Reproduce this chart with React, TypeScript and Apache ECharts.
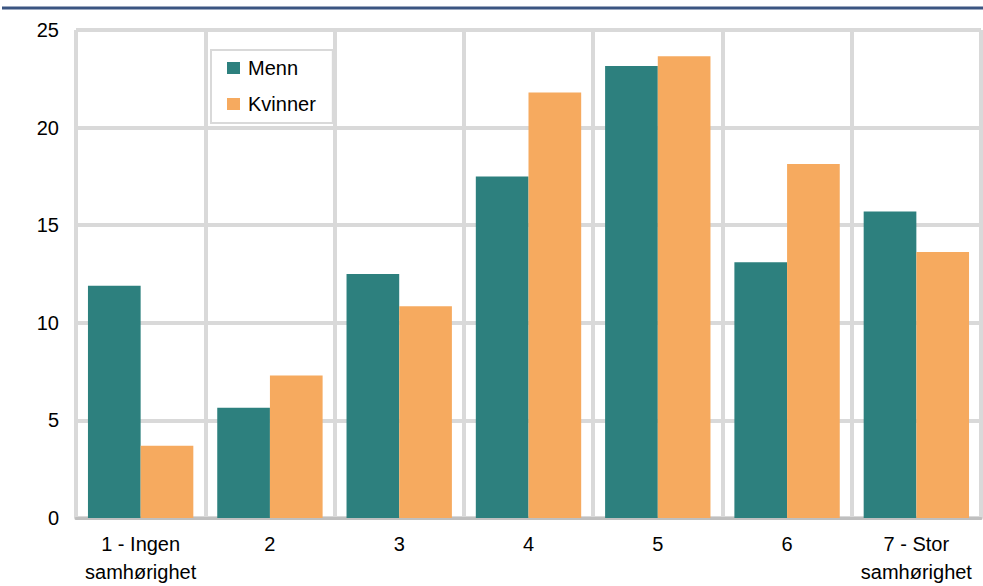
import React, { useEffect, useRef } from "react";
import * as echarts from "echarts";

const categories = [
  "1 - Ingen\nsamhørighet",
  "2",
  "3",
  "4",
  "5",
  "6",
  "7 - Stor\nsamhørighet",
];
const menn = [11.9, 5.65, 12.5, 17.5, 23.15, 13.1, 15.7];
const kvinner = [3.7, 7.3, 10.85, 21.8, 23.65, 18.13, 13.63];
const seriesNames = ["Menn", "Kvinner"];

const FONT = "'Liberation Sans', Arial, sans-serif";

export default function App() {
  const ref = useRef<HTMLDivElement>(null);
  useEffect(() => {
    if (!ref.current) return;
    const chart = echarts.init(ref.current, undefined, { renderer: "svg" });
    chart.setOption({
      animation: false,
      backgroundColor: "#ffffff",
      grid: { left: 76, right: 2, top: 30, bottom: 68, containLabel: false },
      graphic: [
        {
          type: "line",
          shape: { x1: 2, y1: 8, x2: 983, y2: 8 },
          style: { stroke: "#3b5582", lineWidth: 3 },
        },
      ],
      legend: {
        orient: "vertical",
        left: 211,
        top: 50,
        data: seriesNames,
        backgroundColor: "#ffffff",
        borderColor: "#d9d9d9",
        borderWidth: 2,
        padding: [8, 17, 9, 16],
        itemWidth: 13,
        itemHeight: 12,
        itemGap: 16,
        icon: "rect",
        textStyle: {
          fontFamily: FONT,
          fontSize: 20,
          color: "#000000",
          lineHeight: 20,
          padding: [0, 0, 0, 3],
        },
      },
      xAxis: {
        type: "category",
        data: categories,
        axisLine: { show: true, lineStyle: { color: "#bfbfbf", width: 3 } },
        axisTick: { show: false },
        splitLine: { show: true, interval: 0, lineStyle: { color: "#d9d9d9", width: 4 } },
        axisLabel: {
          interval: 0,
          margin: 12,
          fontFamily: FONT,
          fontSize: 20,
          lineHeight: 28,
          color: "#000000",
        },
      },
      yAxis: {
        type: "value",
        min: 0,
        max: 25,
        interval: 5,
        axisLine: { show: false },
        axisTick: { show: false },
        splitLine: { show: true, lineStyle: { color: "#d9d9d9", width: 4 } },
        axisLabel: {
          margin: 17,
          fontFamily: FONT,
          fontSize: 20,
          color: "#000000",
        },
      },
      series: [
        {
          name: seriesNames[0],
          type: "bar",
          data: menn,
          itemStyle: { color: "#2d807e" },
          barGap: "0%",
          barCategoryGap: "18.5%",
        },
        {
          name: seriesNames[1],
          type: "bar",
          data: kvinner,
          itemStyle: { color: "#f6aa5f" },
          barGap: "0%",
          barCategoryGap: "18.5%",
        },
      ],
    });
    return () => chart.dispose();
  }, []);
  return <div ref={ref} style={{ width: 983, height: 586, position: "absolute", left: 0, top: 0 }} />;
}
